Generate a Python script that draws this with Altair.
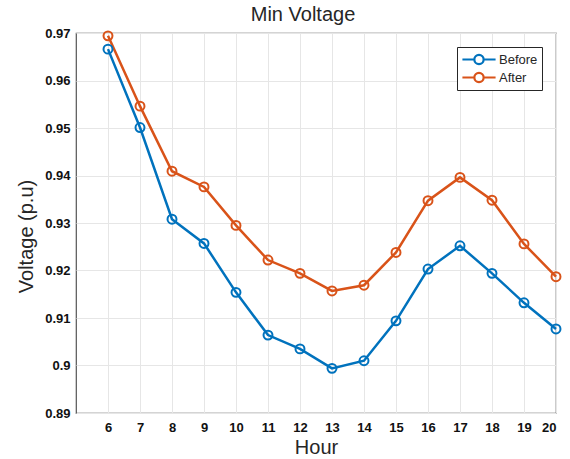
import altair as alt
import pandas as pd

hours = list(range(6, 21))
before = [0.9666, 0.9501, 0.9308, 0.9257, 0.9154, 0.9064, 0.9035, 0.8994,
          0.9010, 0.9094, 0.9203, 0.9252, 0.9194, 0.9132, 0.9077]
after = [0.9694, 0.9546, 0.9409, 0.9376, 0.9295, 0.9222, 0.9194, 0.9157,
         0.9169, 0.9238, 0.9347, 0.9396, 0.9348, 0.9256, 0.9187]
series = ["Before", "After"]
colors = ["#0072BD", "#D95319"]
y_ticks = [0.89, 0.90, 0.91, 0.92, 0.93, 0.94, 0.95, 0.96, 0.97]

rows = []
for h, b, a in zip(hours, before, after):
    rows.append({"Hour": h, "Voltage": b, "Series": "Before"})
    rows.append({"Hour": h, "Voltage": a, "Series": "After"})
df = pd.DataFrame(rows)

sym = "M-1,0L-0.28,0M0.28,0L1,0M-0.28,0A0.28,0.28 0 1,0 0.28,0A0.28,0.28 0 1,0 -0.28,0Z"

color = alt.Color(
    "Series:N",
    scale=alt.Scale(domain=series, range=colors),
    legend=alt.Legend(
        title=None, orient="none", legendX=381, legendY=14,
        symbolType=sym, symbolSize=1100, symbolStrokeWidth=2.2,
        symbolFillColor="transparent", clipHeight=17,
        labelFontSize=13, labelFont="Liberation Sans", labelColor="#262626",
        strokeColor="#262626", fillColor="white", padding=4,
        rowPadding=1, labelOffset=2,
    ),
)

x = alt.X("Hour:Q", scale=alt.Scale(domain=[5, 20], nice=False),
          axis=alt.Axis(values=hours, title="Hour", format="d"))
y = alt.Y("Voltage:Q", scale=alt.Scale(domain=[0.89, 0.97], nice=False, zero=False),
          axis=alt.Axis(values=y_ticks, title="Voltage (p.u)", format=".2~f", titleY=203))

line = alt.Chart(df).mark_line(strokeWidth=2.5).encode(x=x, y=y, color=color)
pts = alt.Chart(df).mark_point(shape="circle", filled=False, size=80, strokeWidth=2, opacity=1).encode(
    x=x, y=y, color=alt.Color("Series:N", scale=alt.Scale(domain=series, range=colors), legend=None)
)

chart = (line + pts).properties(
    width=480, height=380,
    title=alt.TitleParams("Min Voltage", fontSize=20, font="Liberation Sans",
                          fontWeight="normal", color="#262626", offset=2, dx=-13),
    autosize=alt.AutoSizeParams(type="none"),
    padding={"left": 76, "top": 33, "right": 14, "bottom": 46},
).configure_view(
    stroke="#555555", strokeWidth=1.2
).configure_axis(
    grid=True, gridColor="#e6e6e6", gridWidth=1,
    domain=False, ticks=False,
    labelFont="Liberation Sans", labelFontWeight="bold", labelFontSize=13,
    labelColor="#111111",
    titleFont="Liberation Sans", titleFontWeight="normal", titleFontSize=20,
    titleColor="#262626",
).configure_axisX(
    labelPadding=8, titlePadding=3
).configure_axisY(
    labelPadding=6, titlePadding=8
)

chart.save("out.html", embed_options={"renderer": "svg", "actions": False})
